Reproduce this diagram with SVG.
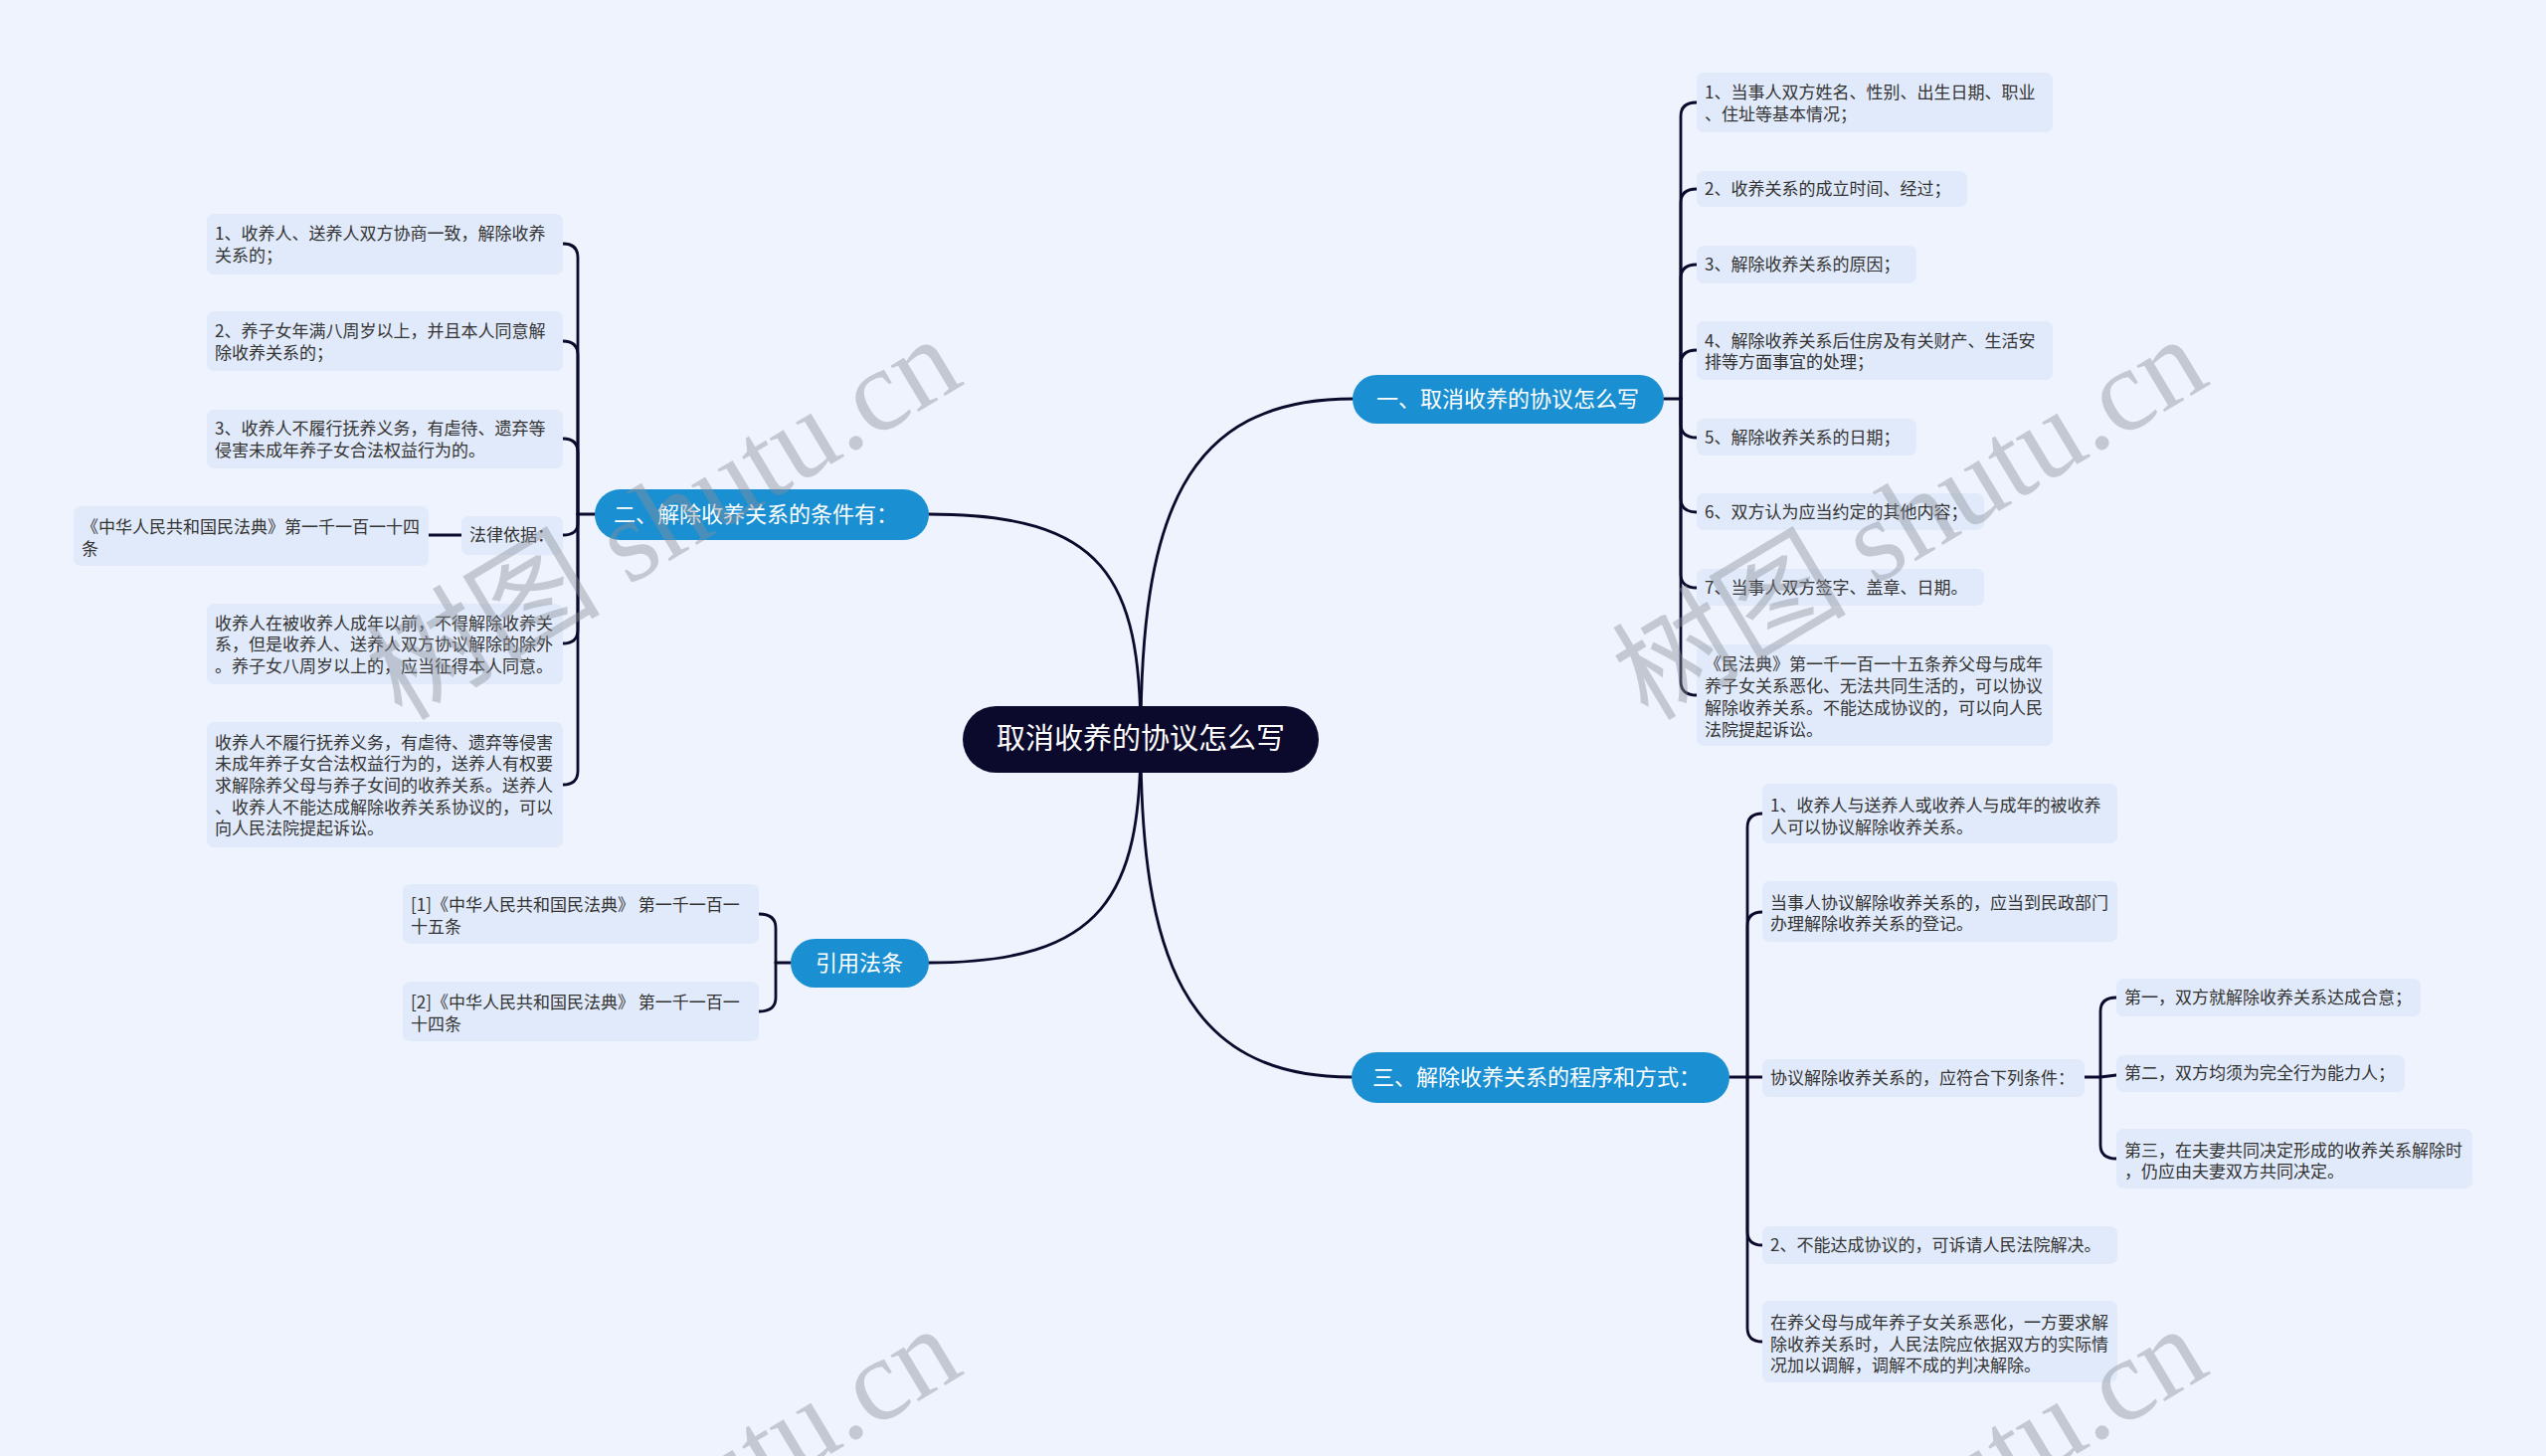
<svg xmlns="http://www.w3.org/2000/svg" width="2560" height="1464" viewBox="0 0 2560 1464">
<defs>
<style>
.bg{fill:#eef3fd}
.leaf{fill:#e1eafa}
.lt{font-family:"Noto Sans CJK SC","Noto Sans",sans-serif;font-size:17px;fill:#333333}
.br{fill:#1a8fd2}
.bt{font-family:"Noto Sans CJK SC","Noto Sans",sans-serif;font-size:22px;fill:#ffffff}
.ct{font-family:"Noto Sans CJK SC","Noto Sans",sans-serif;font-size:29px;fill:#ffffff}
.ln{fill:none;stroke:#0c0a2c;stroke-width:2.8;stroke-linecap:round}
.wm{font-family:"Liberation Serif","Noto Sans CJK SC",serif;font-size:118px;fill:#8a8f99;opacity:0.42}
.wmc{font-family:"Noto Sans CJK SC",sans-serif}
</style>
</defs>
<rect class="bg" x="0" y="0" width="2560" height="1464"/>

<g id="connectors">
<path class="ln" d="M1147 743 C1147 520 1190 401 1360 401"/>
<path class="ln" d="M1147 743 C1147 580 1110 517 934 517"/>
<path class="ln" d="M1147 743 C1147 960 1190 1083 1359 1083"/>
<path class="ln" d="M1147 743 C1147 900 1110 968 934 968"/>
<!-- branch 1 -->
<path class="ln" d="M1673 401 L1690 401"/>
<path class="ln" d="M1690 401 L1690 117 Q1690 103 1706 103"/>
<path class="ln" d="M1690 401 L1690 204 Q1690 190 1706 190"/>
<path class="ln" d="M1690 401 L1690 280 Q1690 266 1706 266"/>
<path class="ln" d="M1690 401 L1690 366 Q1690 352 1706 352"/>
<path class="ln" d="M1690 401 L1690 426 Q1690 440 1706 440"/>
<path class="ln" d="M1690 401 L1690 501 Q1690 515 1706 515"/>
<path class="ln" d="M1690 401 L1690 577 Q1690 591 1706 591"/>
<path class="ln" d="M1690 401 L1690 685 Q1690 699 1706 699"/>
<!-- branch 2 -->
<path class="ln" d="M598 517 L581 517"/>
<path class="ln" d="M581 517 L581 259 Q581 245 566 245"/>
<path class="ln" d="M581 517 L581 357 Q581 343 566 343"/>
<path class="ln" d="M581 517 L581 455 Q581 441 566 441"/>
<path class="ln" d="M581 517 L581 526 Q581 538 566 538"/>
<path class="ln" d="M581 517 L581 633 Q581 647 566 647"/>
<path class="ln" d="M581 517 L581 775 Q581 789 566 789"/>
<path class="ln" d="M464 538 L431 538"/>
<!-- branch 3 -->
<path class="ln" d="M1739 1083 L1757 1083"/>
<path class="ln" d="M1757 1083 L1757 832 Q1757 818 1772 818"/>
<path class="ln" d="M1757 1083 L1757 931 Q1757 917 1772 917"/>
<path class="ln" d="M1757 1083 L1772 1083"/>
<path class="ln" d="M1757 1083 L1757 1238 Q1757 1252 1772 1252"/>
<path class="ln" d="M1757 1083 L1757 1335 Q1757 1349 1772 1349"/>
<path class="ln" d="M2096 1083 L2112 1083"/>
<path class="ln" d="M2112 1083 L2112 1017 Q2112 1003 2128 1003"/>
<path class="ln" d="M2112 1083 L2128 1081"/>
<path class="ln" d="M2112 1083 L2112 1151 Q2112 1165 2128 1165"/>
<!-- branch 4 -->
<path class="ln" d="M795 968 L780 968"/>
<path class="ln" d="M780 968 L780 933 Q780 919 763 919"/>
<path class="ln" d="M780 968 L780 1003 Q780 1017 763 1017"/>
</g>

<g id="root">
<rect x="968" y="710" width="358" height="67" rx="33.5" fill="#0c0a2c"/>
<text class="ct" x="1147" y="753" text-anchor="middle">取消收养的协议怎么写</text>
</g>

<g id="b1">
<rect class="br" x="1360" y="377" width="313" height="49" rx="24.5"/>
<text class="bt" x="1516" y="409" text-anchor="middle">一、取消收养的协议怎么写</text>
</g>
<g id="b2">
<rect class="br" x="598" y="492" width="336" height="51" rx="25.5"/>
<text class="bt" x="760" y="525" text-anchor="middle">二、解除收养关系的条件有：</text>
</g>
<g id="b3">
<rect class="br" x="1359" y="1058" width="380" height="51" rx="25.5"/>
<text class="bt" x="1545" y="1091" text-anchor="middle">三、解除收养关系的程序和方式：</text>
</g>
<g id="b4">
<rect class="br" x="795" y="944" width="139" height="49" rx="24.5"/>
<text class="bt" x="864" y="976" text-anchor="middle">引用法条</text>
</g>

<!-- branch 1 leaves -->
<g id="b1-1"><rect class="leaf" x="1706" y="73" width="358" height="60" rx="7"/>
<text class="lt"><tspan x="1714" y="99">1、当事人双方姓名、性别、出生日期、职业</tspan><tspan x="1714" y="121">、住址等基本情况；</tspan></text></g>
<g id="b1-2"><rect class="leaf" x="1706" y="172" width="272" height="36" rx="7"/>
<text class="lt" x="1714" y="196">2、收养关系的成立时间、经过；</text></g>
<g id="b1-3"><rect class="leaf" x="1706" y="247" width="221" height="38" rx="7"/>
<text class="lt" x="1714" y="272">3、解除收养关系的原因；</text></g>
<g id="b1-4"><rect class="leaf" x="1706" y="323" width="358" height="59" rx="7"/>
<text class="lt"><tspan x="1714" y="349">4、解除收养关系后住房及有关财产、生活安</tspan><tspan x="1714" y="370">排等方面事宜的处理；</tspan></text></g>
<g id="b1-5"><rect class="leaf" x="1706" y="421" width="221" height="37" rx="7"/>
<text class="lt" x="1714" y="446">5、解除收养关系的日期；</text></g>
<g id="b1-6"><rect class="leaf" x="1706" y="496" width="289" height="37" rx="7"/>
<text class="lt" x="1714" y="521">6、双方认为应当约定的其他内容；</text></g>
<g id="b1-7"><rect class="leaf" x="1706" y="572" width="289" height="37" rx="7"/>
<text class="lt" x="1714" y="597">7、当事人双方签字、盖章、日期。</text></g>
<g id="b1-8"><rect class="leaf" x="1706" y="648" width="358" height="102" rx="7"/>
<text class="lt"><tspan x="1714" y="674">《民法典》第一千一百一十五条养父母与成年</tspan><tspan x="1714" y="696">养子女关系恶化、无法共同生活的，可以协议</tspan><tspan x="1714" y="718">解除收养关系。不能达成协议的，可以向人民</tspan><tspan x="1714" y="740">法院提起诉讼。</tspan></text></g>

<!-- branch 2 leaves -->
<g id="b2-1"><rect class="leaf" x="208" y="215" width="358" height="61" rx="7"/>
<text class="lt"><tspan x="216" y="241">1、收养人、送养人双方协商一致，解除收养</tspan><tspan x="216" y="263">关系的；</tspan></text></g>
<g id="b2-2"><rect class="leaf" x="208" y="313" width="358" height="60" rx="7"/>
<text class="lt"><tspan x="216" y="339">2、养子女年满八周岁以上，并且本人同意解</tspan><tspan x="216" y="361">除收养关系的；</tspan></text></g>
<g id="b2-3"><rect class="leaf" x="208" y="412" width="358" height="59" rx="7"/>
<text class="lt"><tspan x="216" y="437">3、收养人不履行抚养义务，有虐待、遗弃等</tspan><tspan x="216" y="459">侵害未成年养子女合法权益行为的。</tspan></text></g>
<g id="b2-4"><rect class="leaf" x="464" y="519" width="102" height="39" rx="7"/>
<text class="lt" x="472" y="544">法律依据：</text></g>
<g id="b2-4-1"><rect class="leaf" x="74" y="509" width="357" height="60" rx="7"/>
<text class="lt"><tspan x="82" y="536">《中华人民共和国民法典》第一千一百一十四</tspan><tspan x="82" y="558">条</tspan></text></g>
<g id="b2-5"><rect class="leaf" x="208" y="607" width="358" height="81" rx="7"/>
<text class="lt"><tspan x="216" y="633">收养人在被收养人成年以前，不得解除收养关</tspan><tspan x="216" y="654">系，但是收养人、送养人双方协议解除的除外</tspan><tspan x="216" y="676">。养子女八周岁以上的，应当征得本人同意。</tspan></text></g>
<g id="b2-6"><rect class="leaf" x="208" y="726" width="358" height="126" rx="7"/>
<text class="lt"><tspan x="216" y="753">收养人不履行抚养义务，有虐待、遗弃等侵害</tspan><tspan x="216" y="774">未成年养子女合法权益行为的，送养人有权要</tspan><tspan x="216" y="796">求解除养父母与养子女间的收养关系。送养人</tspan><tspan x="216" y="818">、收养人不能达成解除收养关系协议的，可以</tspan><tspan x="216" y="839">向人民法院提起诉讼。</tspan></text></g>

<!-- branch 3 leaves -->
<g id="b3-1"><rect class="leaf" x="1772" y="788" width="357" height="60" rx="7"/>
<text class="lt"><tspan x="1780" y="816">1、收养人与送养人或收养人与成年的被收养</tspan><tspan x="1780" y="838">人可以协议解除收养关系。</tspan></text></g>
<g id="b3-2"><rect class="leaf" x="1772" y="886" width="357" height="61" rx="7"/>
<text class="lt"><tspan x="1780" y="914">当事人协议解除收养关系的，应当到民政部门</tspan><tspan x="1780" y="935">办理解除收养关系的登记。</tspan></text></g>
<g id="b3-3"><rect class="leaf" x="1772" y="1065" width="324" height="38" rx="7"/>
<text class="lt" x="1780" y="1090">协议解除收养关系的，应符合下列条件：</text></g>
<g id="b3-3-1"><rect class="leaf" x="2128" y="984" width="306" height="38" rx="7"/>
<text class="lt" x="2136" y="1009">第一，双方就解除收养关系达成合意；</text></g>
<g id="b3-3-2"><rect class="leaf" x="2128" y="1061" width="290" height="37" rx="7"/>
<text class="lt" x="2136" y="1085">第二，双方均须为完全行为能力人；</text></g>
<g id="b3-3-3"><rect class="leaf" x="2128" y="1135" width="358" height="60" rx="7"/>
<text class="lt"><tspan x="2136" y="1163">第三，在夫妻共同决定形成的收养关系解除时</tspan><tspan x="2136" y="1184">，仍应由夫妻双方共同决定。</tspan></text></g>
<g id="b3-4"><rect class="leaf" x="1772" y="1233" width="357" height="38" rx="7"/>
<text class="lt" x="1780" y="1258">2、不能达成协议的，可诉请人民法院解决。</text></g>
<g id="b3-5"><rect class="leaf" x="1772" y="1308" width="357" height="82" rx="7"/>
<text class="lt"><tspan x="1780" y="1336">在养父母与成年养子女关系恶化，一方要求解</tspan><tspan x="1780" y="1358">除收养关系时，人民法院应依据双方的实际情</tspan><tspan x="1780" y="1379">况加以调解，调解不成的判决解除。</tspan></text></g>

<!-- branch 4 leaves -->
<g id="b4-1"><rect class="leaf" x="405" y="889" width="358" height="60" rx="7"/>
<text class="lt"><tspan x="413" y="916">[1]《中华人民共和国民法典》 第一千一百一</tspan><tspan x="413" y="938">十五条</tspan></text></g>
<g id="b4-2"><rect class="leaf" x="405" y="987" width="358" height="60" rx="7"/>
<text class="lt"><tspan x="413" y="1014">[2]《中华人民共和国民法典》 第一千一百一</tspan><tspan x="413" y="1036">十四条</tspan></text></g>

<g id="watermarks">
<text class="wm" transform="translate(404,726) rotate(-31)"><tspan class="wmc">树图</tspan> shutu.cn</text>
<text class="wm" transform="translate(1657,726) rotate(-31)"><tspan class="wmc">树图</tspan> shutu.cn</text>
<text class="wm" transform="translate(404,1721) rotate(-31)"><tspan class="wmc">树图</tspan> shutu.cn</text>
<text class="wm" transform="translate(1657,1721) rotate(-31)"><tspan class="wmc">树图</tspan> shutu.cn</text>
</g>
</svg>
